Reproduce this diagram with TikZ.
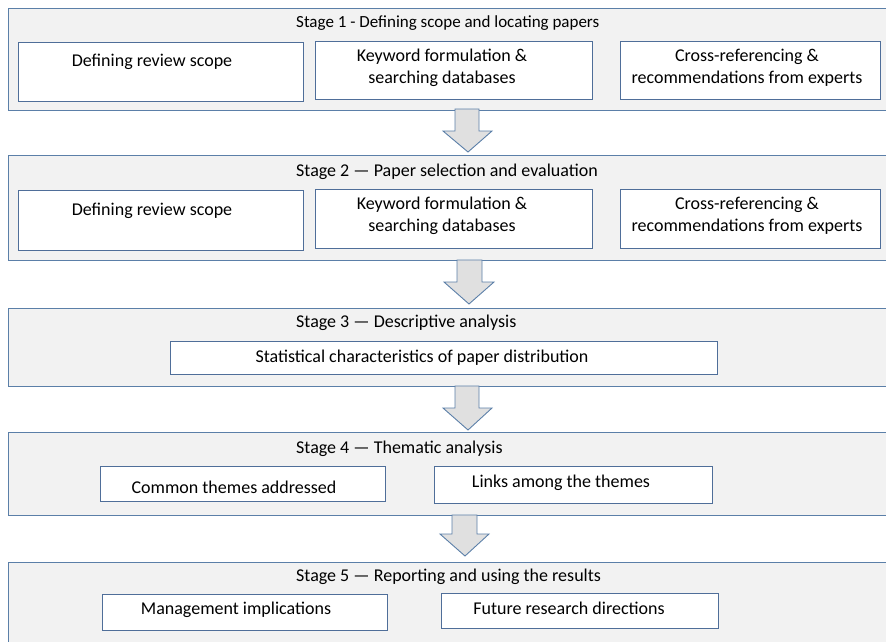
\documentclass[tikz,border=0pt]{standalone}
\usepackage{fontspec}
\setmainfont{Carlito}
\definecolor{outerline}{HTML}{5B7FA8}
\definecolor{outerfill}{HTML}{F2F2F2}
\definecolor{innerline}{HTML}{4F6E99}
\definecolor{arrowfill}{HTML}{E0E0E0}
\begin{document}
\begin{tikzpicture}[x=1pt,y=-1pt,
  stagebox/.style={draw=outerline,fill=outerfill,line width=1.1pt,inner sep=0pt,anchor=north west},
  innerbox/.style={draw=innerline,fill=white,line width=1pt,inner sep=0pt,anchor=north west},
  label/.style={font=\fontsize{18}{22}\selectfont,inner sep=0pt,align=center},
  ttl/.style={font=\fontsize{18}{22}\selectfont,inner sep=0pt,anchor=west},
  bigarrow/.style={draw=outerline,fill=arrowfill,line width=0.9pt,line join=miter}
]
\useasboundingbox (0,0) rectangle (886,642);
% Stage 1
\node[stagebox,minimum width=882pt,minimum height=102pt] (s1) at (8,8) {};
\node[ttl,font=\fontsize{17}{22}\selectfont] (t1) at (296,23) {Stage 1 - Defining scope and locating papers};
\node[innerbox,minimum width=285pt,minimum height=59pt] (b11) at (18,42) {};
\node[innerbox,minimum width=277pt,minimum height=58pt] (b12) at (315,41) {};
\node[innerbox,minimum width=260pt,minimum height=58pt] (b13) at (620,41) {};
\node[label] (l11) at (152,62) {Defining review scope};
\node[label] (l12) at (442,68) {Keyword formulation \&\\searching databases};
\node[label] (l13) at (747,68) {Cross-referencing \&\\recommendations from experts};
% Stage 2
\node[stagebox,minimum width=882pt,minimum height=105pt] (s2) at (8,155) {};
\node[ttl] (t2) at (296,172) {Stage 2 — Paper selection and evaluation};
\node[innerbox,minimum width=285pt,minimum height=60pt] (b21) at (18,190) {};
\node[innerbox,minimum width=277pt,minimum height=59pt] (b22) at (315,189) {};
\node[innerbox,minimum width=260pt,minimum height=59pt] (b23) at (620,189) {};
\node[label] (l21) at (152,211) {Defining review scope};
\node[label] (l22) at (442,216) {Keyword formulation \&\\searching databases};
\node[label] (l23) at (747,216) {Cross-referencing \&\\recommendations from experts};
% Stage 3
\node[stagebox,minimum width=882pt,minimum height=78pt] (s3) at (8,308) {};
\node[ttl] (t3) at (296,323) {Stage 3 — Descriptive analysis};
\node[innerbox,minimum width=547pt,minimum height=33pt] (b31) at (170,341) {};
\node[label] (l31) at (422,358) {Statistical characteristics of paper distribution};
% Stage 4
\node[stagebox,minimum width=882pt,minimum height=83pt] (s4) at (8,432) {};
\node[ttl] (t4) at (296,449) {Stage 4 — Thematic analysis};
\node[innerbox,minimum width=285pt,minimum height=35pt] (b41) at (100,466) {};
\node[innerbox,minimum width=278pt,minimum height=37pt] (b42) at (434,466) {};
\node[label] (l41) at (234,487) {Common themes addressed};
\node[label] (l42) at (561,483) {Links among the themes};
% Stage 5
\node[stagebox,minimum width=882pt,minimum height=100pt] (s5) at (8,562) {};
\node[ttl] (t5) at (296,577) {Stage 5 — Reporting and using the results};
\node[innerbox,minimum width=285pt,minimum height=36pt] (b51) at (102,594) {};
\node[innerbox,minimum width=277pt,minimum height=35pt] (b52) at (441,593) {};
\node[label] (l51) at (236,610) {Management implications};
\node[label] (l52) at (569,608) {Future research directions};
% Arrows
\draw[bigarrow] (455,109) -- (479,109) -- (479,131) -- (492,131) -- (468,152) -- (443,131) -- (455,131) -- cycle;
\draw[bigarrow] (457,260) -- (482,260) -- (482,282) -- (494,282) -- (469,304) -- (444,282) -- (457,282) -- cycle;
\draw[bigarrow] (455,386) -- (479,386) -- (479,408) -- (492,408) -- (468,430) -- (443,408) -- (455,408) -- cycle;
\draw[bigarrow] (452,515) -- (477,515) -- (477,534) -- (489,534) -- (465,556) -- (440,534) -- (452,534) -- cycle;
\end{tikzpicture}
\end{document}
